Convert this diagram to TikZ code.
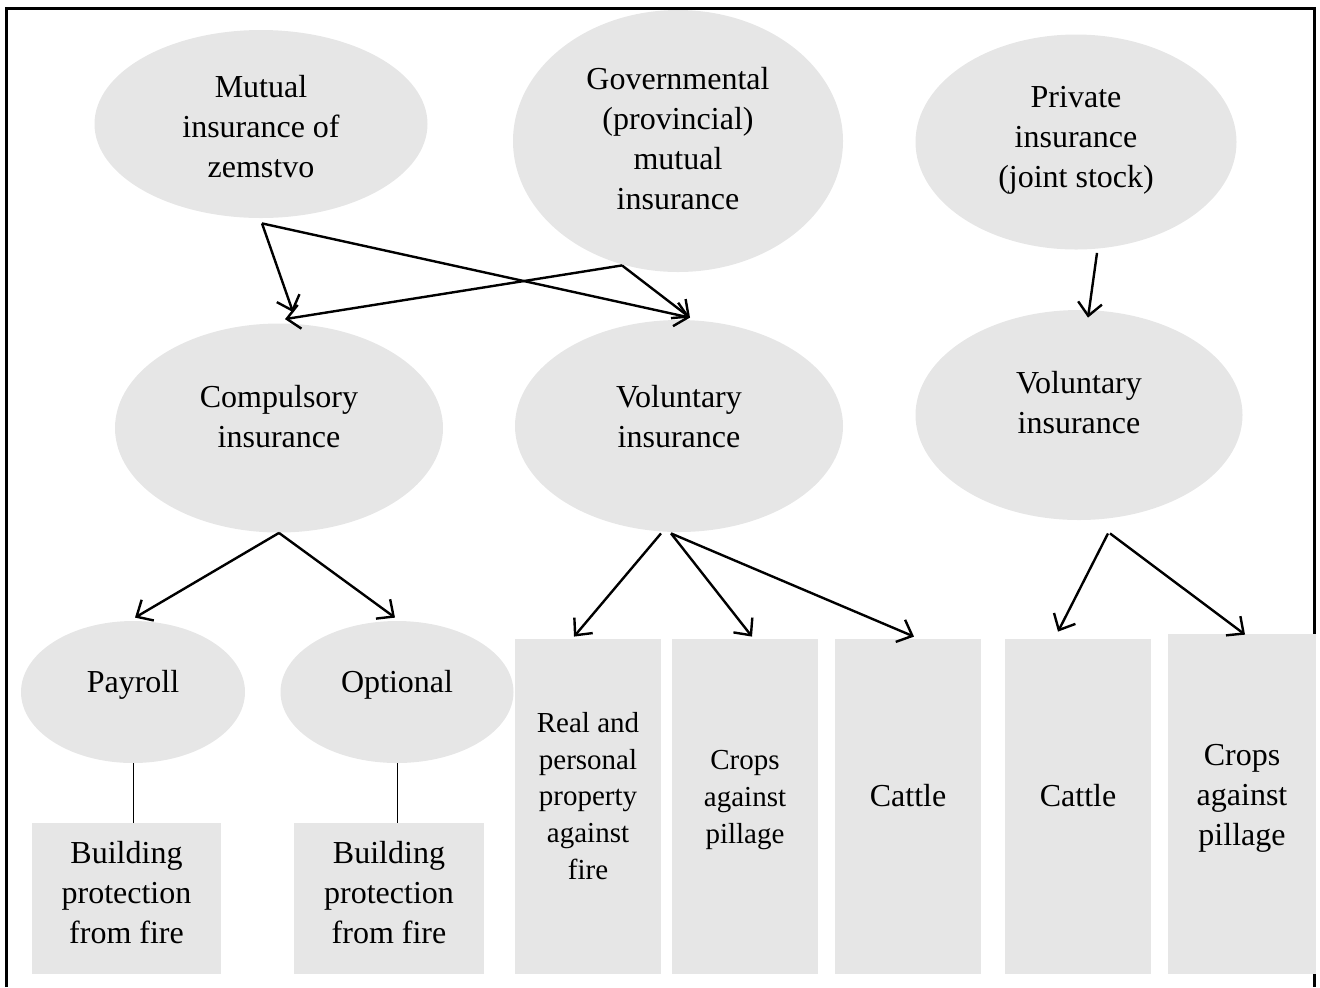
\documentclass[tikz,border=0pt]{standalone}
\usepackage{fontspec}
\setmainfont{Liberation Serif}
\usetikzlibrary{arrows.meta,shapes.geometric}
\definecolor{shade}{RGB}{230,230,230}

\begin{document}
\begin{tikzpicture}[x=0.5pt, y=-0.5pt,
	oval/.style={ellipse, fill=shade, inner sep=0pt},
	box/.style={rectangle, fill=shade, inner sep=0pt},
	txt/.style={align=center, font=\fontsize{16}{20}\selectfont},
	small/.style={align=center, font=\fontsize{14.5}{18.3}\selectfont},
	arr/.style={line width=1.2pt, -{Straight Barb[length=6.5pt,width=12pt,line width=1.2pt]}},
	link/.style={line width=0.5pt}]
			%%%%% START %%%%%
			
			\useasboundingbox (0, 0) rectangle (1320, 987);
			\draw[line width=1.5pt] (6, 987) -- (6, 8) -- (1314, 8) -- (1314, 987);
			
			% top row
			\node[oval, minimum width=166.5pt, minimum height=94pt] (mutual) at (261, 124) {};
			\node[txt] at (261, 127) {Mutual\\insurance of\\zemstvo};
			\node[oval, minimum width=165pt, minimum height=131pt] (govern) at (678, 141) {};
			\node[txt] at (678, 139) {Governmental\\(provincial)\\mutual\\insurance};
			\node[oval, minimum width=160.5pt, minimum height=107.5pt] (private) at (1076, 142) {};
			\node[txt] at (1076, 140) {Private\\insurance\\(joint stock)};
			
			% middle row
			\node[oval, minimum width=164pt, minimum height=104.5pt] (comp) at (279, 428) {};
			\node[txt] at (279, 417) {Compulsory\\insurance};
			\node[oval, minimum width=164pt, minimum height=106pt] (volmid) at (679, 426) {};
			\node[txt] at (679, 417) {Voluntary\\insurance};
			\node[oval, minimum width=163.5pt, minimum height=105pt] (volright) at (1079, 415) {};
			\node[txt] at (1079, 403) {Voluntary\\insurance};
			
			% lower row
			\node[oval, minimum width=112pt, minimum height=71pt] (payroll) at (133, 692) {};
			\node[txt] at (133, 685) {Payroll};
			\node[oval, minimum width=116.5pt, minimum height=71pt] (optional) at (397, 692) {};
			\node[txt] at (397, 685) {Optional};
			
			% boxes
			\node[box, minimum width=94.5pt, minimum height=75.5pt] (bldgA) at (126.5, 898.5) {};
			\node[txt] at (126.5, 893) {Building\\protection\\from fire};
			\node[box, minimum width=95pt, minimum height=75.5pt] (bldgB) at (389, 898.5) {};
			\node[txt] at (389, 893) {Building\\protection\\from fire};
			\node[box, minimum width=73pt, minimum height=167.5pt] (real) at (588, 806.5) {};
			\node[small] at (588, 796) {Real and\\personal\\property\\against\\fire};
			\node[box, minimum width=73pt, minimum height=167.5pt] (cropsA) at (745, 806.5) {};
			\node[small] at (745, 800) {Crops\\against\\pillage};
			\node[box, minimum width=73pt, minimum height=167.5pt] (cattleA) at (908, 806.5) {};
			\node[txt] at (908, 796) {Cattle};
			\node[box, minimum width=73pt, minimum height=167.5pt] (cattleB) at (1078, 806.5) {};
			\node[txt] at (1078, 796) {Cattle};
			\node[box, minimum width=74pt, minimum height=170pt] (cropsB) at (1242, 804) {};
			\node[txt] at (1242, 798) {Crops\\against\\pillage};
			
			% arrows
			\draw[arr] ([shift={(1,5)}]mutual.south) -- ([shift={(14,-11)}]comp.north);
			\draw[arr] ([shift={(1,5)}]mutual.south) -- ([shift={(11,-2)}]volmid.north);
			\draw[arr] ([shift={(-56,-7)}]govern.south) -- ([shift={(6,-4)}]comp.north);
			\draw[arr] ([shift={(-56,-7)}]govern.south) -- ([shift={(11,-2)}]volmid.north);
			\draw[arr] ([shift={(21,3)}]private.south) -- ([shift={(9,8)}]volright.north);
			
			\draw[arr] (comp.south) -- ([shift={(2,-3)}]payroll.north);
			\draw[arr] (comp.south) -- ([shift={(-2,-3)}]optional.north);
			\draw[arr] ([shift={(-18,1)}]volmid.south) -- ([shift={(-14,-2)}]real.north);
			\draw[arr] ([shift={(-8,1)}]volmid.south) -- ([shift={(7,-2)}]cropsA.north);
			\draw[arr] ([shift={(-8,1)}]volmid.south) -- ([shift={(6,-2)}]cattleA.north);
			\draw[arr] ([shift={(29,13)}]volright.south) -- ([shift={(-20,-7)}]cattleB.north);
			\draw[arr] ([shift={(31,13)}]volright.south) -- ([shift={(3,1)}]cropsB.north);
			
			% plain links
			\draw[link] (payroll.south) -- (payroll.south |- bldgA.north);
			\draw[link] (optional.south) -- (optional.south |- bldgB.north);
			
			%%%%% END %%%%%
\end{tikzpicture}
\end{document}
